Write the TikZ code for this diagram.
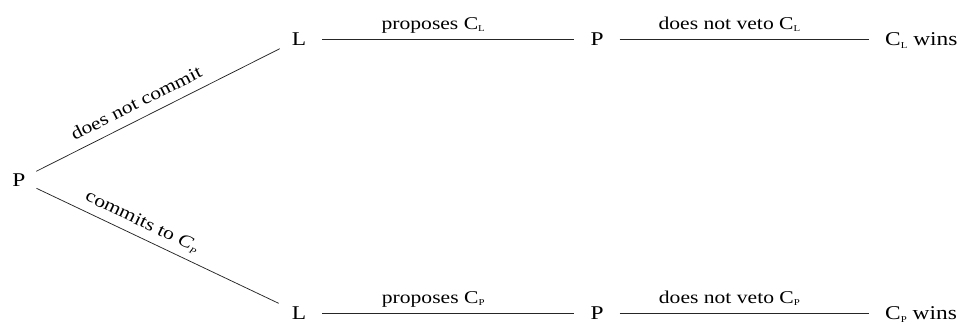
\documentclass[tikz,border=0pt]{standalone}
\usepackage{fontspec}
\setmainfont{Liberation Serif}[FakeStretch=1.2]
\newcommand*{\Sub}[1]{\raisebox{-0.3ex}{\fontsize{9bp}{9bp}\selectfont #1}}
\tikzset{
  move/.style={inner xsep=16bp, inner ysep=3bp, text height=13bp, text depth=0bp,
    font=\fontsize{19.5bp}{22bp}\selectfont},
  act/.style={pos=.44, anchor=base, yshift=10bp, inner sep=0pt,
    font=\fontsize{18bp}{21bp}\selectfont},
  branch/.style={line width=.75bp, draw=black!85}
}

\begin{document}
\begin{tikzpicture}[x=1bp, y=-1bp]
    \useasboundingbox (0,0) rectangle (963,323);

    % first mover
    \node [move, shape=circle, inner sep=7bp] (root) at (19,180) {P};

    % both branches look alike, only the candidate differs
    \foreach \r/\y/\c in {a/39/L, b/313/P} {
        \node [move] (L\r) at (299,\y) {L};
        \node [move] (P\r) at (597,\y) {P};
        \node [move, anchor=west] (W\r) at (869,\y) {C\Sub{\c} wins};
        \draw [branch] (L\r) -- node [act] {proposes C\Sub{\c}} (P\r);
        \draw [branch] (P\r) -- node [act] {does not veto C\Sub{\c}} (W\r);
    }

    \draw [branch] (root) -- node [act, sloped] {does not commit} (La);
    \draw [branch] (root) -- node [act, sloped, pos=.41] {commits to \textit{C}\Sub{\textit{P}}} (Lb);
\end{tikzpicture}
\end{document}
